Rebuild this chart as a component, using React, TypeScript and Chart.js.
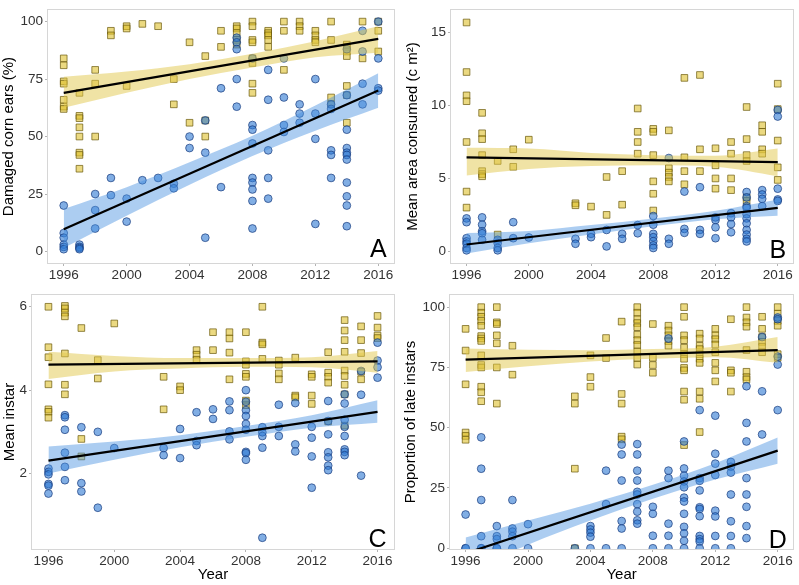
import React, { useEffect, useRef } from 'react';
import { Chart, registerables } from 'chart.js';

Chart.register(...registerables);
Chart.defaults.font.family = "'Liberation Sans', Arial, Helvetica, sans-serif";

// ---------- shared axes ----------
const YEARS = [1996, 1997, 1998, 1999, 2000, 2001, 2002, 2003, 2004, 2005, 2006, 2007, 2008, 2009, 2010, 2011, 2012, 2013, 2014, 2015, 2016];
const X_TICKS = [1996, 2000, 2004, 2008, 2012, 2016];
const FIT_X = [1996, 2016];
const BAND_X = [1996, 2000, 2004, 2008, 2012, 2016];

// ---------- Panel A: Damaged corn ears (%) ----------
const A_YELLOW: number[][] = [
  [84, 81, 74, 73, 66, 63, 62], [69, 59, 58, 54, 50, 43, 42, 36], [79, 73, 50], [96, 94], [98, 97, 72],
  [99], [98], [75, 64], [91, 56], [85, 57, 50], [96, 89], [98, 97, 95, 92, 90],
  [100, 98, 92, 91, 84, 82, 73, 69], [96, 95, 94, 92, 89], [100, 96, 79], [100, 98, 96], [96, 94, 92, 91],
  [100, 92, 67, 64], [90, 89, 87, 85, 72, 68, 56], [100, 84], [100, 96, 87],
];
const A_BLUE: number[][] = [
  [20, 8, 6, 3, 2, 1], [3, 2, 1.5, 1], [25, 18, 10], [32, 24.5], [23, 13],
  [31], [32], [29.5, 27.5], [50, 45], [57, 43, 6], [71, 28], [93, 91, 88, 75, 63],
  [84, 55, 53, 47, 32, 30, 27, 22, 10], [79, 66, 44, 32, 23], [84, 67, 55, 52], [64, 60, 56], [75, 60, 49, 12],
  [64, 62, 44, 42, 32], [88, 68, 53, 45, 43, 42, 40, 30, 24, 20, 11], [96, 87, 73, 64], [100, 84, 71, 70],
];
const A_YELLOW_FIT = [69, 92.5];
const A_BLUE_FIT = [9.7, 70];
const A_YELLOW_LO = [62.5, 69, 75, 80, 84.5, 86.5];
const A_YELLOW_HI = [76, 78.3, 81.5, 86, 91.5, 98];
const A_BLUE_LO = [1.5, 15.5, 29, 41.5, 52.5, 62.5];
const A_BLUE_HI = [18.5, 28, 38.8, 50.3, 63.5, 77.5];
const A_Y_TICKS = [0, 25, 50, 75, 100];

// ---------- Panel B: Mean area consumed ----------
const B_YELLOW: number[][] = [
  [15.7, 12.3, 10.7, 10.3, 7.5, 4.1, 3.0], [9.5, 8.1, 7.7, 6.6, 5.5, 5.3, 5.15], [6.2, 1.15], [7.0, 5.8], [7.66],
  [], [], [3.3, 3.16], [3.07], [5.1, 2.5], [5.5, 3.2], [9.8, 8.2, 7.5, 6.7],
  [8.4, 8.2, 6.6, 4.8, 3.95, 2.8], [8.3, 5.7, 5.4, 5.1, 4.8], [11.9, 6.45, 5.5, 4.6], [12.1, 7.0, 5.5], [7.07, 5.9, 5.0, 4.3],
  [7.5, 6.7, 5.0, 4.2], [9.9, 7.7, 6.6, 6.2, 3.7, 3.46], [8.65, 8.2, 7.0, 6.7], [11.5, 9.76, 7.6, 5.76, 4.9],
];
const B_BLUE: number[][] = [
  [2.26, 2.0, 0.9, 0.68, 0.52, 0.23, 0.07], [2.33, 1.83, 1.38, 1.24, 0.79], [0.79, 0.56, 0.23, 0.07], [2.0, 0.9], [0.95],
  [], [], [0.86, 0.52], [1.2, 0.97], [1.47, 0.34], [1.2, 0.86], [1.8, 1.24],
  [2.42, 1.83, 1.2, 0.97, 0.7, 0.41, 0.23], [6.4, 0.86, 0.52], [4.1, 1.54, 1.27], [4.4, 1.47, 1.2], [2.33, 2.15, 1.65, 0.9],
  [2.62, 2.33, 1.87, 1.31], [4.07, 3.7, 3.1, 2.98, 2.55, 2.26, 1.92, 1.47, 1.15, 0.86, 0.68], [4.2, 3.9, 3.6, 3.1], [9.7, 9.25, 4.3, 3.56, 3.46],
];
const B_YELLOW_FIT = [6.44, 6.12];
const B_BLUE_FIT = [0.47, 2.98];
const B_YELLOW_LO = [5.2, 5.65, 5.85, 5.9, 5.8, 5.15];
const B_YELLOW_HI = [7.1, 7.05, 6.75, 6.6, 6.55, 7.05];
const B_BLUE_LO = [-0.15, 0.55, 1.15, 1.72, 2.2, 2.45];
const B_BLUE_HI = [1.25, 1.4, 1.8, 2.25, 2.78, 3.55];
const B_Y_TICKS = [0, 5, 10, 15];

// ---------- Panel C: Mean instar ----------
const C_YELLOW: number[][] = [
  [6.0, 5.03, 4.79, 4.14, 3.54, 3.48, 3.34], [6.02, 5.96, 5.86, 5.77, 4.88, 4.13, 3.9], [5.49, 2.83, 2.41], [4.72, 4.28], [5.6],
  [], [], [4.32, 3.54], [4.09, 4.0], [4.96, 4.85, 4.73], [5.39, 4.96], [5.39, 5.24, 4.9, 4.26],
  [5.39, 4.69, 4.61, 4.39, 4.32, 3.75, 3.64], [6.0, 5.14, 5.1, 4.75], [4.71, 4.61, 4.4, 4.26], [4.78, 3.87, 3.83], [4.38, 4.32, 3.87, 3.67],
  [4.91, 4.42, 4.32, 4.18, 3.25], [5.68, 5.43, 5.2, 4.92, 4.47, 4.34, 4.13, 3.9, 3.15], [5.53, 5.2, 4.89, 4.44, 4.26], [5.78, 5.5, 5.31, 5.25],
];
const C_BLUE: number[][] = [
  [2.12, 2.04, 1.98, 1.75, 1.71, 1.52], [3.4, 3.35, 3.05, 2.5, 2.16, 1.84], [3.11, 1.77, 1.57], [3.0, 1.18], [2.61],
  [], [], [2.61, 2.44], [3.07, 2.37], [3.47, 2.78, 2.68], [3.54, 3.31], [3.73, 3.52, 3.01, 2.82],
  [4.0, 3.72, 3.52, 3.38, 3.19, 3.05, 2.52, 2.49, 2.33], [3.11, 2.99, 2.9, 2.62, 0.46], [3.65, 3.12, 2.9], [3.69, 2.7, 2.53], [3.12, 2.86, 2.41, 1.66],
  [3.74, 3.26, 2.94, 2.51, 2.39, 2.19, 2.08], [3.9, 3.68, 3.29, 3.12, 2.9, 2.58, 2.52, 2.44], [4.46, 3.89, 1.95], [5.14, 4.71, 4.55, 4.3],
];
const C_YELLOW_FIT = [4.61, 4.69];
const C_BLUE_FIT = [2.31, 3.48];
const C_YELLOW_LO = [4.27, 4.45, 4.52, 4.56, 4.55, 4.42];
const C_YELLOW_HI = [4.92, 4.82, 4.77, 4.77, 4.79, 4.94];
const C_BLUE_LO = [2.0, 2.33, 2.63, 2.88, 3.1, 3.22];
const C_BLUE_HI = [2.65, 2.77, 2.92, 3.14, 3.4, 3.76];
const C_Y_TICKS = [2, 4, 6];

// ---------- Panel D: Proportion of late instars ----------
const D_YELLOW: number[][] = [
  [91, 82, 68, 48, 46.6, 45], [100, 97.7, 96, 94.3, 92.3, 88, 87, 86, 80, 76, 75, 67, 64.7, 61], [100, 93.7, 93, 88.3, 85, 75, 60], [84, 72], [],
  [], [], [63, 60, 33, 0], [80, 71, 67], [87.2, 78.9], [94, 64, 60, 46.3, 45.2], [100, 97.7, 95, 93.4, 91.7, 88.6, 86.3, 84.3, 81.6, 78.9, 76.2],
  [93, 79, 76, 72.8], [92.3, 90.3, 88.3, 85.9, 84], [100, 96, 88.3, 86.3, 83.2, 80.5, 78.6, 74.8, 73.8, 65, 61.6, 42.8], [89, 87, 84, 82.6, 80.5, 78.6, 76.9, 65, 62, 48.2], [91, 88.3, 86.7, 84.5, 81.3, 76.9, 73.8, 69.2],
  [95, 73.8, 72.8, 65], [100, 95.7, 93.7, 91.9, 82.2, 73.2, 71, 70], [96, 91, 87.6, 85.6, 83.6, 81.3], [100, 97.3, 94.3, 92.3, 80.5, 79],
];
const D_BLUE: number[][] = [
  [14, 0, 0], [46, 33, 20, 5, 0, 0], [9.2, 5, 3.8, 0, 0], [20, 8.2, 6.9, 5, 0], [10, 0],
  [], [], [0], [9.2, 7.8, 6.5, 4.8, 0], [32.2, 18.3, 0], [43, 38.9, 28.1, 11.3, 8.2, 0], [43.2, 38.9, 32.2, 28.1, 23.4, 22.3, 18.3, 15.2, 11.6, 10.2],
  [17.2, 14.3, 5.2, 0], [87, 32.2, 29.1, 10.2, 5.2, 0], [44.3, 33.1, 30.1, 27.7, 25.3, 21, 19.4, 14.3, 8.9, 6.2, 3.1, 0], [57.3, 29.1, 28, 24, 17, 16.3, 13.3, 5.1, 3.8, 2.8, 0], [55, 39.2, 35.1, 30.4, 15.6, 13.2, 5.1, 0],
  [35.8, 33.8, 31.4, 22.3, 11.2, 5.1, 0], [67.2, 52, 44.3, 29.1, 22.3, 17.2, 9.2, 4.2], [87.6, 65.1, 47.2], [95.7, 95, 79.5, 76.2, 57.3],
];
const D_YELLOW_FIT = [78.2, 82.2];
const D_BLUE_FIT = [-2.1, 40.5];
const D_YELLOW_LO = [73.1, 75.5, 77.5, 78.6, 79.2, 76.9];
const D_YELLOW_HI = [82.9, 82.3, 82.1, 82.6, 83.6, 87.6];
const D_BLUE_LO = [-10, 1.5, 11.5, 20.5, 28.5, 35.1];
const D_BLUE_HI = [4.5, 11.5, 18.5, 26.3, 35.3, 45.9];
const D_Y_TICKS = [0, 25, 50, 75, 100];

// ---------- styles ----------
const YELLOW_FILL = 'rgba(222,192,45,0.6)';
const YELLOW_EDGE = 'rgba(105,88,10,0.7)';
const YELLOW_BAND = 'rgba(226,200,75,0.5)';
const BLUE_FILL = 'rgba(45,120,210,0.6)';
const BLUE_EDGE = 'rgba(25,60,125,0.7)';
const BLUE_BAND = 'rgba(70,145,225,0.45)';
const TICK_COLOR = '#333333';

type PanelCfg = {
  letter: string;
  yTitle: string;
  yellow: number[][];
  blue: number[][];
  yellowFit: number[];
  blueFit: number[];
  yellowLo: number[];
  yellowHi: number[];
  blueLo: number[];
  blueHi: number[];
  yTicks: number[];
  yMin: number;
  yMax: number;
  left: number;
  top: number;
  width: number;
  height: number;
  padTop: number;
  padRight: number;
  yAxisWidth: number;
  xAxisHeight: number;
  yTitlePad: number;
  showYear: boolean;
  letterDy: number;
};

const PANELS: PanelCfg[] = [
  {
    letter: 'A', yTitle: 'Damaged corn ears (%)', yellow: A_YELLOW, blue: A_BLUE,
    yellowFit: A_YELLOW_FIT, blueFit: A_BLUE_FIT, yellowLo: A_YELLOW_LO, yellowHi: A_YELLOW_HI,
    blueLo: A_BLUE_LO, blueHi: A_BLUE_HI, yTicks: A_Y_TICKS, yMin: -5, yMax: 105,
    left: 0, top: 0, width: 400, height: 285, padTop: 3, padRight: 6, yAxisWidth: 48, xAxisHeight: 22,
    yTitlePad: 0, showYear: false, letterDy: 6,
  },
  {
    letter: 'B', yTitle: 'Mean area consumed (c m²)', yellow: B_YELLOW, blue: B_BLUE,
    yellowFit: B_YELLOW_FIT, blueFit: B_BLUE_FIT, yellowLo: B_YELLOW_LO, yellowHi: B_YELLOW_HI,
    blueLo: B_BLUE_LO, blueHi: B_BLUE_HI, yTicks: B_Y_TICKS, yMin: -0.8, yMax: 16.55,
    left: 400, top: 0, width: 399, height: 285, padTop: 4, padRight: 3, yAxisWidth: 51, xAxisHeight: 22,
    yTitlePad: 4, showYear: false, letterDy: 5,
  },
  {
    letter: 'C', yTitle: 'Mean instar', yellow: C_YELLOW, blue: C_BLUE,
    yellowFit: C_YELLOW_FIT, blueFit: C_BLUE_FIT, yellowLo: C_YELLOW_LO, yellowHi: C_YELLOW_HI,
    blueLo: C_BLUE_LO, blueHi: C_BLUE_HI, yTicks: C_Y_TICKS, yMin: 0.19, yMax: 6.28,
    left: 0, top: 285, width: 400, height: 300, padTop: 4, padRight: 6, yAxisWidth: 32, xAxisHeight: 36,
    yTitlePad: 1, showYear: true, letterDy: 2,
  },
  {
    letter: 'D', yTitle: 'Proportion of late instars', yellow: D_YELLOW, blue: D_BLUE,
    yellowFit: D_YELLOW_FIT, blueFit: D_BLUE_FIT, yellowLo: D_YELLOW_LO, yellowHi: D_YELLOW_HI,
    blueLo: D_BLUE_LO, blueHi: D_BLUE_HI, yTicks: D_Y_TICKS, yMin: -0.3, yMax: 105,
    left: 400, top: 285, width: 399, height: 300, padTop: 4, padRight: 3, yAxisWidth: 50, xAxisHeight: 36,
    yTitlePad: 2, showYear: true, letterDy: 1,
  },
];

function toPoints(groups: number[][]) {
  const pts: { x: number; y: number }[] = [];
  groups.forEach((vals, i) => vals.forEach((v) => pts.push({ x: YEARS[i], y: v })));
  return pts;
}
function toXY(xs: number[], ys: number[]) {
  return xs.map((x, i) => ({ x, y: ys[i] }));
}

function Panel({ cfg }: { cfg: PanelCfg }) {
  const ref = useRef<HTMLCanvasElement>(null);
  useEffect(() => {
    const canvas = ref.current;
    if (!canvas) return;
    const bandEdge = (data: any, fill: any, color: string) => ({
      type: 'line', data, fill, backgroundColor: color, borderWidth: 0, borderColor: 'transparent',
      pointRadius: 0, cubicInterpolationMode: 'monotone', order: 1,
    });
    const fitLine = (data: any) => ({
      type: 'line', data, borderColor: '#000000', borderWidth: 2.2, pointRadius: 0, fill: false, order: 0,
    });
    const datasets: any[] = [
      // 0,1 yellow band
      bandEdge(toXY(BAND_X, cfg.yellowLo), false, YELLOW_BAND),
      bandEdge(toXY(BAND_X, cfg.yellowHi), '-1', YELLOW_BAND),
      // 2,3 blue band
      bandEdge(toXY(BAND_X, cfg.blueLo), false, BLUE_BAND),
      bandEdge(toXY(BAND_X, cfg.blueHi), '-1', BLUE_BAND),
      fitLine(toXY(FIT_X, cfg.yellowFit)),
      fitLine(toXY(FIT_X, cfg.blueFit)),
      {
        type: 'scatter', data: toPoints(cfg.yellow), pointStyle: 'rect', pointRadius: 4.7,
        backgroundColor: YELLOW_FILL, borderColor: YELLOW_EDGE, borderWidth: 1, order: 3,
      },
      {
        type: 'scatter', data: toPoints(cfg.blue), pointStyle: 'circle', pointRadius: 3.9,
        backgroundColor: BLUE_FILL, borderColor: BLUE_EDGE, borderWidth: 1, order: 2,
      },
    ];

    const framePlugin = {
      id: 'frame',
      afterDraw(chart: any) {
        const { ctx, chartArea: a } = chart;
        ctx.save();
        ctx.strokeStyle = '#d6d6d6';
        ctx.lineWidth = 1;
        ctx.strokeRect(Math.round(a.left) - 0.5, Math.round(a.top) - 0.5, Math.round(a.right - a.left) + 1, Math.round(a.bottom - a.top) + 1);
        const x = chart.scales.x.getPixelForValue(X_TICKS[X_TICKS.length - 1]);
        ctx.fillStyle = '#000000';
        ctx.font = "25px 'Liberation Sans', Arial, sans-serif";
        ctx.textAlign = 'center';
        ctx.textBaseline = 'alphabetic';
        ctx.fillText(cfg.letter, x, a.bottom - cfg.letterDy);
        ctx.restore();
      },
    };

    const chart = new Chart(canvas, {
      type: 'scatter',
      data: { datasets },
      options: {
        responsive: false,
        animation: false,
        layout: { padding: { top: cfg.padTop, right: cfg.padRight, left: 0, bottom: 0 } },
        plugins: { legend: { display: false }, tooltip: { enabled: false } },
        scales: {
          x: {
            type: 'linear', min: 1995, max: 2017,
            afterBuildTicks: (s: any) => { s.ticks = X_TICKS.map((v) => ({ value: v })); },
            afterFit: (s: any) => { s.height = cfg.xAxisHeight; },
            ticks: { callback: (v: any) => String(v), color: TICK_COLOR, font: { size: 13.5 }, padding: 1, maxRotation: 0, autoSkip: false },
            grid: { drawOnChartArea: false, drawTicks: true, tickLength: 3, color: '#b3b3b3' },
            border: { display: false },
            title: { display: cfg.showYear, text: 'Year', color: '#000000', font: { size: 15 }, padding: { top: 1, bottom: 1 } },
          },
          y: {
            type: 'linear', min: cfg.yMin, max: cfg.yMax,
            afterBuildTicks: (s: any) => { s.ticks = cfg.yTicks.map((v) => ({ value: v })); },
            afterFit: (s: any) => { s.width = cfg.yAxisWidth; },
            ticks: { callback: (v: any) => String(v), color: TICK_COLOR, font: { size: 13.5 }, padding: 2, autoSkip: false },
            grid: { drawOnChartArea: false, drawTicks: true, tickLength: 3, color: '#b3b3b3' },
            border: { display: false },
            title: { display: true, text: cfg.yTitle, color: '#000000', font: { size: 15 }, padding: { top: cfg.yTitlePad, bottom: 0 } },
          },
        },
      } as any,
      plugins: [framePlugin],
    });
    return () => chart.destroy();
  }, [cfg]);
  return (
    <canvas
      ref={ref}
      width={cfg.width}
      height={cfg.height}
      style={{ position: 'absolute', left: cfg.left, top: cfg.top, width: cfg.width, height: cfg.height }}
    />
  );
}

export default function App() {
  return (
    <div style={{ position: 'fixed', left: 0, top: 0, width: 799, height: 585, background: '#ffffff' }}>
      {PANELS.map((p) => (
        <Panel key={p.letter} cfg={p} />
      ))}
    </div>
  );
}
